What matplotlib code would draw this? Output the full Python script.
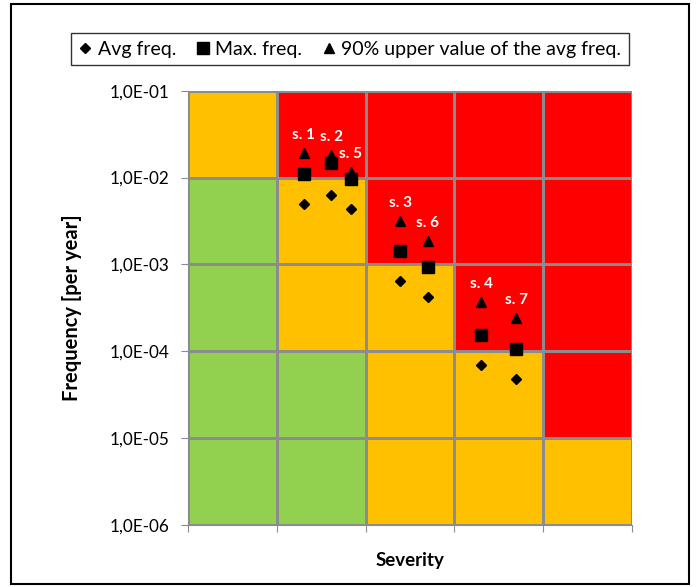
import numpy as np
import matplotlib
matplotlib.use('Agg')
import matplotlib.pyplot as plt
from matplotlib.colors import ListedColormap
from matplotlib.patches import Rectangle
from matplotlib.ticker import FixedLocator, FuncFormatter, NullLocator

plt.rcParams['font.family'] = ['Lato', 'DejaVu Sans']

# Risk matrix: rows from low frequency (bottom) to high (top), columns = severity
# 0 = green, 1 = orange, 2 = red
sev_edges = [0, 1, 2, 3, 4, 5]
freq_edges = [1e-6, 1e-5, 1e-4, 1e-3, 1e-2, 1e-1]
risk_levels = [
    [0, 0, 1, 1, 1],   # 1e-6 .. 1e-5
    [0, 0, 1, 1, 2],   # 1e-5 .. 1e-4
    [0, 1, 1, 2, 2],   # 1e-4 .. 1e-3
    [0, 1, 2, 2, 2],   # 1e-3 .. 1e-2
    [1, 2, 2, 2, 2],   # 1e-2 .. 1e-1
]
risk_colors = ['#92D050', '#FFC000', '#FF0000']

# Scenarios
scen_labels = ['s. 1', 's. 2', 's. 5', 's. 3', 's. 6', 's. 4', 's. 7']
scen_severity = [1.30, 1.61, 1.83, 2.39, 2.70, 3.30, 3.70]
avg_freq = [4.97e-3, 6.25e-3, 4.32e-3, 6.51e-4, 4.26e-4, 6.97e-5, 4.78e-5]
max_freq = [1.10e-2, 1.46e-2, 9.64e-3, 1.43e-3, 9.36e-4, 1.55e-4, 1.07e-4]
upper90_freq = [1.91e-2, 1.82e-2, 1.17e-2, 3.17e-3, 1.88e-3, 3.67e-4, 2.40e-4]

fig = plt.figure(figsize=(6.97, 5.87), dpi=100)
ax = fig.add_axes([0.2704, 0.1056, 0.6359, 0.7399])

ax.pcolormesh(sev_edges, freq_edges, np.array(risk_levels), cmap=ListedColormap(risk_colors),
              vmin=-0.5, vmax=2.5, edgecolors='#8c8c8c', linewidth=1.0)

ax.set_yscale('log')
ax.set_xlim(0, 5)
ax.set_ylim(1e-6, 1e-1)

ax.plot(scen_severity, avg_freq, linestyle='none', marker='D', markersize=5.5, color='black', label='Avg freq.')
ax.plot(scen_severity, max_freq, linestyle='none', marker='s', markersize=8, color='black', label='Max. freq.')
ax.plot(scen_severity, upper90_freq, linestyle='none', marker='^', markersize=7.5, color='black',
        label='90% upper value of the avg freq.')

for lbl, x, y in zip(scen_labels, scen_severity, upper90_freq):
    ax.annotate(lbl, (x, y), textcoords='offset points', xytext=(0, 13), ha='center', va='center',
                color='white', fontsize=11, fontweight='bold')

ax.yaxis.set_major_locator(FixedLocator(freq_edges))
ax.yaxis.set_minor_locator(NullLocator())
ax.yaxis.set_major_formatter(FuncFormatter(lambda v, p: '1,0E-%02d' % round(-np.log10(v))))
ax.set_xticks(sev_edges)
ax.set_xticklabels([])
ax.tick_params(axis='both', direction='out', length=5, color='#8c8c8c', labelsize=12.3, pad=9)
for s in ax.spines.values():
    s.set_visible(False)
ax.spines['left'].set_visible(True)
ax.spines['bottom'].set_visible(True)
ax.spines['left'].set_color('#8c8c8c')
ax.spines['bottom'].set_color('#8c8c8c')

ax.set_xlabel('Severity', fontsize=13.5, fontweight='bold')
ax.set_ylabel('Frequency [per year]', fontsize=14.5, fontweight='bold')
ax.xaxis.set_label_coords(0.5, -0.081)
ax.yaxis.set_label_coords(-0.263, 0.5)
ax.xaxis.label.set_va('center')
ax.yaxis.label.set_va('center')

leg = fig.legend(loc='center', bbox_to_anchor=(0.502, 0.9165), ncol=3, fontsize=14, frameon=True,
                 fancybox=False, edgecolor='black', handlelength=0.7, handletextpad=0.3,
                 columnspacing=1.0, borderpad=0.4)
leg.get_frame().set_linewidth(1.0)

fig.patches.append(Rectangle((0.0158, 0.0051), 0.9727, 0.988, transform=fig.transFigure,
                             fill=False, edgecolor='black', linewidth=1.5))

fig.savefig('out.png', dpi=100)
